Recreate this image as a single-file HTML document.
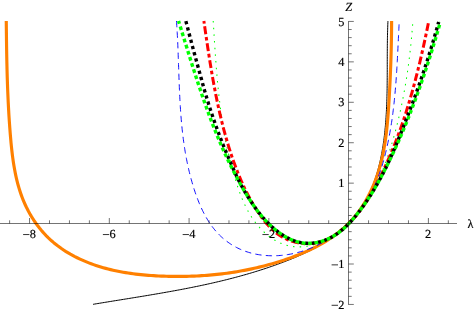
<!DOCTYPE html>
<html><head><meta charset="utf-8"><title>plot</title>
<style>
html,body{margin:0;padding:0;background:#fff;}
body{width:474px;height:311px;overflow:hidden;font-family:"Liberation Serif",serif;}
svg{display:block;will-change:transform;}
text{text-rendering:geometricPrecision;}
</style></head><body>
<svg width="474" height="311" viewBox="0 0 474 311">
<g fill="none" stroke-linecap="butt" stroke-linejoin="round">
<path d="M93.08,304.32 L94.69,304.05 L96.30,303.78 L97.90,303.52 L99.51,303.25 L101.12,302.99 L102.72,302.73 L104.33,302.46 L105.93,302.20 L107.54,301.94 L109.14,301.68 L110.75,301.42 L112.35,301.16 L113.95,300.90 L115.56,300.64 L117.16,300.39 L118.76,300.13 L120.36,299.87 L121.96,299.61 L123.56,299.35 L125.16,299.09 L126.76,298.84 L128.36,298.58 L129.95,298.32 L131.55,298.06 L133.15,297.80 L134.75,297.54 L136.34,297.28 L137.94,297.02 L139.53,296.76 L141.13,296.50 L142.72,296.24 L144.31,295.97 L145.91,295.71 L147.50,295.44 L149.09,295.18 L150.68,294.91 L152.27,294.64 L153.86,294.37 L155.45,294.10 L157.04,293.83 L158.63,293.56 L160.21,293.29 L161.80,293.01 L163.39,292.73 L164.97,292.45 L166.56,292.17 L168.14,291.89 L169.73,291.61 L171.31,291.32 L172.90,291.03 L174.48,290.75 L176.06,290.45 L177.64,290.16 L179.22,289.86 L180.80,289.57 L182.38,289.27 L183.96,288.96 L185.54,288.66 L187.11,288.35 L188.69,288.04 L190.27,287.73 L191.84,287.42 L193.42,287.10 L194.99,286.78 L196.56,286.46 L198.14,286.13 L199.71,285.80 L201.28,285.47 L202.85,285.14 L204.42,284.80 L205.99,284.46 L207.56,284.12 L209.13,283.77 L210.70,283.42 L212.26,283.06 L213.83,282.71 L215.39,282.35 L216.96,281.98 L218.52,281.61 L220.08,281.24 L221.65,280.87 L223.21,280.49 L224.77,280.10 L226.33,279.72 L227.89,279.32 L229.45,278.93 L231.01,278.53 L232.56,278.13 L234.12,277.72 L235.68,277.31 L237.23,276.89 L238.79,276.47 L240.34,276.04 L241.89,275.61 L243.44,275.18 L244.99,274.74 L246.55,274.30 L248.09,273.85 L249.64,273.39 L251.19,272.94 L252.74,272.47 L254.29,272.00 L255.83,271.53 L257.38,271.05 L258.92,270.57 L260.46,270.08 L262.01,269.58 L263.55,269.08 L265.09,268.58 L266.63,268.07 L268.17,267.55 L269.71,267.03 L271.24,266.50 L272.78,265.97 L274.32,265.43 L275.85,264.88 L277.39,264.33 L278.92,263.77 L280.45,263.21 L281.98,262.64 L283.51,262.06 L285.04,261.48 L286.57,260.89 L288.09,260.29 L289.61,259.69 L291.13,259.08 L292.65,258.46 L294.16,257.83 L295.67,257.19 L297.18,256.55 L298.68,255.89 L300.17,255.23 L301.66,254.56 L303.15,253.88 L304.63,253.19 L306.10,252.49 L307.57,251.78 L309.03,251.05 L310.49,250.32 L311.93,249.58 L313.37,248.82 L314.80,248.06 L316.23,247.28 L317.64,246.49 L319.05,245.69 L320.45,244.88 L321.84,244.05 L323.22,243.21 L324.59,242.36 L325.94,241.50 L327.29,240.62 L328.63,239.72 L329.96,238.82 L331.27,237.90 L332.57,236.96 L333.86,236.01 L335.14,235.05 L336.41,234.07 L337.66,233.07 L338.90,232.06 L340.13,231.04 L341.34,229.99 L342.53,228.93 L343.72,227.86 L344.89,226.77 L346.04,225.67 L347.18,224.55 L348.30,223.41 L349.41,222.27 L350.50,221.10 L351.57,219.92 L352.63,218.73 L353.67,217.52 L354.69,216.30 L355.69,215.07 L356.68,213.82 L357.65,212.56 L358.60,211.28 L359.53,209.99 L360.44,208.69 L361.34,207.37 L362.21,206.05 L363.07,204.71 L363.90,203.35 L364.72,201.99 L365.51,200.61 L366.28,199.22 L367.04,197.82 L367.78,196.40 L368.49,194.98 L369.19,193.55 L369.87,192.10 L370.54,190.65 L371.18,189.18 L371.81,187.71 L372.42,186.22 L373.01,184.73 L373.59,183.23 L374.15,181.72 L374.69,180.20 L375.22,178.68 L375.73,177.14 L376.23,175.60 L376.71,174.06 L377.17,172.50 L377.63,170.94 L378.06,169.37 L378.49,167.80 L378.90,166.22 L379.29,164.64 L379.67,163.05 L380.04,161.46 L380.40,159.86 L380.74,158.26 L381.07,156.65 L381.39,155.04 L381.70,153.43 L382.00,151.81 L382.28,150.20 L382.56,148.58 L382.82,146.95 L383.07,145.33 L383.31,143.70 L383.55,142.07 L383.77,140.45 L383.98,138.82 L384.18,137.19 L384.38,135.56 L384.57,133.93 L384.74,132.30 L384.91,130.67 L385.07,129.04 L385.23,127.41 L385.37,125.79 L385.51,124.16 L385.64,122.54 L385.77,120.92 L385.89,119.29 L386.00,117.67 L386.10,116.05 L386.20,114.43 L386.30,112.82 L386.38,111.20 L386.47,109.58 L386.54,107.97 L386.61,106.35 L386.68,104.74 L386.74,103.12 L386.80,101.51 L386.85,99.90 L386.90,98.28 L386.94,96.67 L386.98,95.06 L387.02,93.45 L387.05,91.84 L387.08,90.23 L387.11,88.62 L387.13,87.01 L387.15,85.41 L387.17,83.80 L387.18,82.19 L387.20,80.58 L387.21,78.98 L387.22,77.37 L387.23,75.76 L387.24,74.16 L387.24,72.55 L387.25,70.95 L387.25,69.34 L387.25,67.74 L387.26,66.13 L387.26,64.52 L387.26,62.92 L387.26,61.31 L387.27,59.71 L387.27,58.10 L387.28,56.50 L387.28,54.89 L387.29,53.29 L387.30,51.68 L387.30,50.07 L387.32,48.47 L387.33,46.86 L387.34,45.25 L387.36,43.65 L387.38,42.04 L387.40,40.43 L387.43,38.82 L387.46,37.21 L387.49,35.60 L387.52,33.99 L387.56,32.38 L387.60,30.77 L387.65,29.16 L387.70,27.55 L387.75,25.94 L387.81,24.33 L387.88,22.71 L387.94,21.10" stroke="#000" stroke-width="1.0"/>
<path d="M6.27,20.99 L6.29,23.56 L6.32,26.12 L6.35,28.69 L6.38,31.25 L6.41,33.80 L6.44,36.35 L6.47,38.90 L6.51,41.45 L6.54,43.99 L6.58,46.53 L6.62,49.07 L6.66,51.60 L6.70,54.13 L6.75,56.66 L6.80,59.19 L6.85,61.72 L6.91,64.25 L6.97,66.77 L7.03,69.29 L7.09,71.82 L7.16,74.34 L7.23,76.86 L7.31,79.38 L7.39,81.90 L7.48,84.42 L7.57,86.94 L7.66,89.46 L7.76,91.98 L7.87,94.50 L7.98,97.02 L8.09,99.55 L8.21,102.07 L8.34,104.60 L8.47,107.13 L8.61,109.65 L8.75,112.19 L8.90,114.72 L9.06,117.25 L9.23,119.79 L9.40,122.33 L9.58,124.88 L9.76,127.42 L9.95,129.97 L10.16,132.52 L10.36,135.08 L10.58,137.64 L10.81,140.20 L11.04,142.77 L11.29,145.33 L11.56,147.90 L11.84,150.46 L12.14,153.02 L12.45,155.58 L12.79,158.14 L13.15,160.69 L13.53,163.23 L13.94,165.77 L14.38,168.30 L14.84,170.82 L15.34,173.34 L15.86,175.84 L16.42,178.33 L17.02,180.81 L17.65,183.28 L18.32,185.73 L19.02,188.17 L19.77,190.59 L20.56,192.99 L21.40,195.38 L22.28,197.75 L23.21,200.10 L24.19,202.43 L25.22,204.74 L26.29,207.02 L27.42,209.28 L28.59,211.52 L29.81,213.72 L31.08,215.90 L32.40,218.05 L33.76,220.17 L35.17,222.25 L36.63,224.31 L38.13,226.32 L39.68,228.30 L41.28,230.25 L42.92,232.15 L44.61,234.01 L46.34,235.84 L48.12,237.61 L49.95,239.35 L51.82,241.04 L53.73,242.68 L55.69,244.27 L57.68,245.82 L59.72,247.32 L61.79,248.78 L63.90,250.19 L66.04,251.56 L68.21,252.88 L70.41,254.16 L72.64,255.39 L74.89,256.59 L77.16,257.73 L79.46,258.84 L81.77,259.90 L84.10,260.92 L86.45,261.90 L88.81,262.84 L91.18,263.74 L93.57,264.61 L95.97,265.43 L98.38,266.22 L100.81,266.97 L103.24,267.68 L105.69,268.36 L108.15,269.00 L110.62,269.61 L113.09,270.19 L115.58,270.74 L118.07,271.26 L120.57,271.74 L123.08,272.20 L125.60,272.63 L128.12,273.03 L130.65,273.40 L133.18,273.75 L135.71,274.07 L138.25,274.37 L140.80,274.65 L143.35,274.90 L145.89,275.13 L148.45,275.33 L151.00,275.52 L153.55,275.69 L156.11,275.84 L158.66,275.97 L161.21,276.08 L163.76,276.18 L166.31,276.26 L168.86,276.32 L171.41,276.37 L173.95,276.41 L176.49,276.42 L179.04,276.42 L181.57,276.41 L184.11,276.38 L186.64,276.33 L189.18,276.26 L191.71,276.18 L194.23,276.08 L196.76,275.97 L199.28,275.84 L201.81,275.69 L204.33,275.52 L206.84,275.33 L209.36,275.13 L211.87,274.91 L214.38,274.67 L216.89,274.41 L219.40,274.14 L221.90,273.84 L224.41,273.53 L226.91,273.20 L229.41,272.85 L231.90,272.48 L234.40,272.10 L236.89,271.69 L239.38,271.26 L241.86,270.82 L244.35,270.35 L246.83,269.87 L249.31,269.36 L251.79,268.84 L254.26,268.29 L256.74,267.73 L259.21,267.15 L261.68,266.54 L264.14,265.91 L266.60,265.27 L269.07,264.60 L271.52,263.91 L273.98,263.20 L276.43,262.47 L278.89,261.72 L281.33,260.94 L283.78,260.15 L286.22,259.33 L288.66,258.49 L291.08,257.62 L293.50,256.73 L295.91,255.81 L298.31,254.87 L300.70,253.90 L303.07,252.90 L305.43,251.88 L307.78,250.83 L310.10,249.74 L312.41,248.63 L314.70,247.48 L316.96,246.31 L319.21,245.10 L321.43,243.86 L323.63,242.59 L325.80,241.28 L327.94,239.93 L330.05,238.55 L332.14,237.14 L334.19,235.69 L336.21,234.20 L338.20,232.67 L340.16,231.10 L342.07,229.49 L343.95,227.85 L345.79,226.16 L347.60,224.43 L349.36,222.66 L351.07,220.84 L352.75,218.98 L354.38,217.08 L355.97,215.14 L357.51,213.16 L359.01,211.14 L360.47,209.08 L361.89,206.99 L363.26,204.87 L364.59,202.71 L365.88,200.53 L367.13,198.32 L368.34,196.08 L369.50,193.81 L370.62,191.52 L371.71,189.21 L372.75,186.88 L373.75,184.53 L374.71,182.16 L375.62,179.77 L376.50,177.37 L377.34,174.96 L378.14,172.53 L378.90,170.10 L379.62,167.65 L380.30,165.20 L380.95,162.73 L381.56,160.26 L382.14,157.78 L382.69,155.29 L383.21,152.80 L383.70,150.30 L384.15,147.79 L384.59,145.28 L384.99,142.76 L385.37,140.24 L385.73,137.71 L386.06,135.18 L386.38,132.64 L386.67,130.10 L386.95,127.56 L387.20,125.02 L387.44,122.47 L387.67,119.93 L387.88,117.38 L388.08,114.83 L388.27,112.28 L388.45,109.74 L388.62,107.19 L388.78,104.65 L388.94,102.10 L389.09,99.56 L389.24,97.02 L389.38,94.49 L389.52,91.95 L389.65,89.42 L389.78,86.89 L389.91,84.36 L390.03,81.84 L390.15,79.31 L390.26,76.79 L390.37,74.26 L390.47,71.74 L390.57,69.22 L390.67,66.69 L390.76,64.17 L390.85,61.65 L390.93,59.12 L391.01,56.60 L391.08,54.07 L391.15,51.54 L391.22,49.01 L391.28,46.48 L391.33,43.95 L391.38,41.42 L391.43,38.88 L391.47,36.34 L391.51,33.80 L391.54,31.26 L391.57,28.71 L391.59,26.16 L391.61,23.60 L391.62,21.04" stroke="#ff8000" stroke-width="3.15"/>
<path d="M176.47,21.02 L176.57,22.47 L176.67,23.92 L176.77,25.37 L176.86,26.82 L176.95,28.27 L177.04,29.72 L177.13,31.17 L177.21,32.62 L177.29,34.07 L177.37,35.52 L177.44,36.97 L177.51,38.42 L177.58,39.87 L177.65,41.32 L177.72,42.77 L177.78,44.22 L177.84,45.68 L177.90,47.13 L177.96,48.58 L178.02,50.03 L178.07,51.48 L178.13,52.93 L178.18,54.38 L178.23,55.83 L178.28,57.28 L178.34,58.74 L178.39,60.19 L178.43,61.64 L178.48,63.09 L178.53,64.54 L178.58,65.99 L178.63,67.44 L178.68,68.89 L178.73,70.34 L178.77,71.79 L178.82,73.24 L178.87,74.69 L178.92,76.14 L178.97,77.60 L179.03,79.05 L179.08,80.50 L179.13,81.94 L179.19,83.39 L179.24,84.84 L179.30,86.29 L179.36,87.74 L179.42,89.19 L179.48,90.64 L179.54,92.09 L179.61,93.54 L179.68,94.99 L179.75,96.43 L179.82,97.88 L179.89,99.33 L179.97,100.78 L180.05,102.22 L180.13,103.67 L180.22,105.12 L180.30,106.56 L180.39,108.01 L180.49,109.45 L180.59,110.90 L180.69,112.34 L180.79,113.79 L180.90,115.23 L181.01,116.68 L181.13,118.12 L181.25,119.56 L181.37,121.01 L181.50,122.45 L181.63,123.89 L181.77,125.33 L181.91,126.77 L182.05,128.22 L182.20,129.66 L182.36,131.10 L182.52,132.54 L182.68,133.98 L182.85,135.41 L183.03,136.85 L183.21,138.29 L183.40,139.73 L183.59,141.17 L183.79,142.60 L183.99,144.04 L184.20,145.47 L184.42,146.91 L184.64,148.34 L184.87,149.78 L185.10,151.21 L185.34,152.64 L185.59,154.08 L185.85,155.51 L186.11,156.94 L186.38,158.37 L186.65,159.80 L186.94,161.23 L187.23,162.66 L187.52,164.09 L187.83,165.51 L188.14,166.94 L188.46,168.37 L188.79,169.79 L189.13,171.22 L189.47,172.64 L189.83,174.07 L190.19,175.49 L190.56,176.91 L190.94,178.33 L191.33,179.75 L191.72,181.17 L192.13,182.59 L192.54,184.01 L192.96,185.43 L193.40,186.85 L193.84,188.26 L194.29,189.68 L194.75,191.09 L195.23,192.50 L195.71,193.91 L196.20,195.31 L196.71,196.70 L197.23,198.10 L197.75,199.48 L198.30,200.86 L198.85,202.24 L199.41,203.61 L199.99,204.97 L200.59,206.32 L201.19,207.66 L201.81,209.00 L202.44,210.32 L203.09,211.64 L203.76,212.94 L204.43,214.24 L205.13,215.52 L205.83,216.79 L206.56,218.04 L207.30,219.29 L208.05,220.52 L208.83,221.74 L209.62,222.94 L210.42,224.13 L211.25,225.30 L212.09,226.45 L212.95,227.59 L213.83,228.71 L214.73,229.81 L215.64,230.90 L216.58,231.97 L217.53,233.01 L218.51,234.04 L219.50,235.05 L220.51,236.04 L221.55,237.00 L222.60,237.95 L223.68,238.87 L224.77,239.77 L225.88,240.65 L227.00,241.51 L228.15,242.34 L229.31,243.15 L230.49,243.94 L231.68,244.70 L232.89,245.44 L234.12,246.15 L235.36,246.84 L236.62,247.51 L237.88,248.15 L239.17,248.76 L240.46,249.35 L241.77,249.91 L243.09,250.45 L244.42,250.96 L245.77,251.44 L247.12,251.89 L248.49,252.32 L249.86,252.73 L251.25,253.10 L252.64,253.45 L254.05,253.78 L255.46,254.08 L256.87,254.35 L258.30,254.60 L259.73,254.83 L261.17,255.03 L262.61,255.21 L264.05,255.36 L265.51,255.48 L266.96,255.59 L268.42,255.67 L269.88,255.72 L271.35,255.76 L272.81,255.77 L274.28,255.75 L275.75,255.72 L277.22,255.66 L278.69,255.58 L280.16,255.47 L281.63,255.35 L283.09,255.20 L284.56,255.03 L286.02,254.84 L287.48,254.62 L288.93,254.39 L290.38,254.13 L291.83,253.86 L293.27,253.56 L294.71,253.25 L296.14,252.91 L297.56,252.55 L298.98,252.17 L300.39,251.78 L301.79,251.36 L303.19,250.93 L304.58,250.47 L305.96,250.00 L307.34,249.51 L308.71,249.00 L310.07,248.47 L311.42,247.92 L312.76,247.36 L314.10,246.78 L315.43,246.18 L316.75,245.56 L318.06,244.93 L319.36,244.28 L320.66,243.62 L321.94,242.94 L323.22,242.24 L324.49,241.53 L325.75,240.80 L327.00,240.05 L328.24,239.29 L329.46,238.52 L330.68,237.73 L331.89,236.93 L333.09,236.11 L334.28,235.28 L335.46,234.43 L336.63,233.57 L337.79,232.70 L338.93,231.81 L340.07,230.91 L341.19,229.99 L342.31,229.06 L343.41,228.12 L344.50,227.17 L345.58,226.20 L346.64,225.22 L347.70,224.23 L348.74,223.22 L349.77,222.21 L350.79,221.18 L351.79,220.14 L352.78,219.08 L353.76,218.02 L354.72,216.94 L355.68,215.86 L356.61,214.76 L357.54,213.65 L358.45,212.53 L359.35,211.40 L360.23,210.25 L361.10,209.10 L361.95,207.94 L362.79,206.77 L363.62,205.58 L364.43,204.39 L365.22,203.19 L366.00,201.98 L366.77,200.76 L367.51,199.52 L368.25,198.28 L368.97,197.04 L369.67,195.78 L370.36,194.51 L371.04,193.24 L371.70,191.96 L372.34,190.67 L372.98,189.37 L373.60,188.07 L374.20,186.75 L374.80,185.44 L375.38,184.11 L375.95,182.78 L376.50,181.44 L377.05,180.10 L377.58,178.75 L378.10,177.39 L378.61,176.03 L379.10,174.67 L379.59,173.30 L380.07,171.92 L380.53,170.54 L380.99,169.16 L381.43,167.77 L381.87,166.38 L382.29,164.98 L382.71,163.58 L383.12,162.18 L383.52,160.78 L383.91,159.37 L384.29,157.96 L384.66,156.55 L385.03,155.13 L385.38,153.72 L385.73,152.30 L386.08,150.88 L386.41,149.46 L386.74,148.04 L387.06,146.62 L387.38,145.20 L387.69,143.77 L387.99,142.35 L388.29,140.92 L388.57,139.49 L388.86,138.07 L389.13,136.64 L389.40,135.21 L389.67,133.78 L389.93,132.35 L390.18,130.92 L390.43,129.48 L390.67,128.05 L390.91,126.62 L391.14,125.18 L391.36,123.74 L391.58,122.31 L391.80,120.87 L392.01,119.43 L392.21,117.99 L392.41,116.56 L392.61,115.12 L392.80,113.68 L392.98,112.23 L393.16,110.79 L393.34,109.35 L393.51,107.91 L393.68,106.47 L393.84,105.02 L394.00,103.58 L394.16,102.13 L394.31,100.69 L394.46,99.24 L394.60,97.80 L394.74,96.35 L394.88,94.90 L395.01,93.46 L395.14,92.01 L395.27,90.56 L395.39,89.11 L395.51,87.67 L395.63,86.22 L395.75,84.77 L395.86,83.32 L395.97,81.87 L396.07,80.42 L396.18,78.97 L396.28,77.52 L396.38,76.07 L396.47,74.62 L396.57,73.17 L396.66,71.72 L396.75,70.27 L396.84,68.82 L396.92,67.37 L397.01,65.92 L397.09,64.47 L397.17,63.02 L397.25,61.57 L397.33,60.12 L397.41,58.67 L397.48,57.22 L397.56,55.77 L397.63,54.32 L397.70,52.87 L397.78,51.42 L397.85,49.97 L397.92,48.52 L397.99,47.07 L398.06,45.62 L398.13,44.17 L398.20,42.72 L398.26,41.27 L398.33,39.83 L398.40,38.38 L398.47,36.93 L398.54,35.48 L398.61,34.04 L398.68,32.59 L398.75,31.14 L398.82,29.70 L398.89,28.25 L398.96,26.81 L399.03,25.37 L399.10,23.92 L399.18,22.48 L399.25,21.04" stroke="#0000ff" stroke-width="0.95" stroke-dasharray="6.2691 4.2789" stroke-dashoffset="0.000"/>
<path d="M213.21,21.02 L213.30,22.35 L213.38,23.68 L213.46,25.01 L213.54,26.34 L213.62,27.67 L213.70,29.00 L213.78,30.33 L213.86,31.66 L213.95,32.99 L214.03,34.33 L214.11,35.66 L214.19,36.99 L214.28,38.32 L214.36,39.66 L214.45,40.99 L214.53,42.32 L214.62,43.66 L214.70,44.99 L214.79,46.32 L214.88,47.66 L214.97,48.99 L215.05,50.33 L215.15,51.66 L215.24,52.99 L215.33,54.33 L215.42,55.66 L215.52,57.00 L215.61,58.33 L215.71,59.67 L215.81,61.00 L215.91,62.33 L216.01,63.67 L216.11,65.00 L216.21,66.34 L216.32,67.67 L216.42,69.00 L216.53,70.34 L216.64,71.67 L216.75,73.00 L216.86,74.34 L216.98,75.67 L217.09,77.00 L217.21,78.34 L217.33,79.67 L217.45,81.00 L217.57,82.33 L217.70,83.67 L217.83,85.00 L217.96,86.33 L218.09,87.66 L218.22,88.99 L218.36,90.32 L218.50,91.65 L218.64,92.98 L218.78,94.31 L218.93,95.64 L219.07,96.97 L219.22,98.30 L219.38,99.63 L219.53,100.95 L219.69,102.28 L219.85,103.61 L220.01,104.93 L220.18,106.26 L220.35,107.58 L220.52,108.91 L220.70,110.23 L220.87,111.56 L221.05,112.88 L221.24,114.20 L221.42,115.52 L221.61,116.85 L221.81,118.17 L222.00,119.49 L222.20,120.81 L222.41,122.13 L222.61,123.45 L222.82,124.76 L223.03,126.08 L223.25,127.40 L223.47,128.71 L223.69,130.03 L223.92,131.34 L224.15,132.66 L224.39,133.97 L224.62,135.28 L224.87,136.59 L225.11,137.90 L225.36,139.21 L225.62,140.52 L225.87,141.83 L226.14,143.14 L226.40,144.44 L226.67,145.75 L226.95,147.05 L227.22,148.36 L227.51,149.66 L227.79,150.96 L228.09,152.26 L228.38,153.56 L228.68,154.86 L228.99,156.16 L229.30,157.46 L229.61,158.75 L229.93,160.05 L230.25,161.34 L230.58,162.64 L230.91,163.93 L231.25,165.22 L231.59,166.51 L231.94,167.80 L232.29,169.09 L232.65,170.37 L233.01,171.66 L233.38,172.94 L233.75,174.23 L234.12,175.51 L234.51,176.79 L234.89,178.07 L235.29,179.35 L235.69,180.62 L236.09,181.90 L236.50,183.17 L236.91,184.45 L237.33,185.72 L237.76,186.99 L238.19,188.26 L238.63,189.53 L239.08,190.79 L239.54,192.05 L240.00,193.31 L240.47,194.56 L240.96,195.81 L241.45,197.06 L241.95,198.30 L242.46,199.54 L242.99,200.77 L243.52,202.00 L244.07,203.22 L244.63,204.43 L245.21,205.64 L245.79,206.85 L246.39,208.04 L247.01,209.23 L247.64,210.41 L248.28,211.59 L248.95,212.75 L249.62,213.91 L250.32,215.06 L251.03,216.20 L251.76,217.33 L252.51,218.45 L253.27,219.56 L254.06,220.66 L254.86,221.75 L255.68,222.83 L256.53,223.90 L257.39,224.95 L258.26,225.99 L259.16,227.02 L260.07,228.03 L261.00,229.02 L261.95,229.99 L262.91,230.95 L263.89,231.89 L264.89,232.81 L265.90,233.70 L266.92,234.58 L267.96,235.43 L269.02,236.26 L270.09,237.06 L271.17,237.84 L272.27,238.59 L273.38,239.32 L274.50,240.02 L275.64,240.69 L276.79,241.33 L277.95,241.93 L279.12,242.51 L280.30,243.06 L281.50,243.57 L282.70,244.05 L283.92,244.50 L285.14,244.91 L286.38,245.28 L287.63,245.61 L288.88,245.91 L290.14,246.17 L291.42,246.39 L292.70,246.57 L293.99,246.71 L295.28,246.81 L296.58,246.88 L297.88,246.91 L299.19,246.90 L300.50,246.86 L301.81,246.78 L303.13,246.68 L304.44,246.53 L305.76,246.36 L307.07,246.16 L308.38,245.92 L309.69,245.66 L311.00,245.37 L312.30,245.05 L313.60,244.70 L314.89,244.33 L316.17,243.93 L317.45,243.50 L318.72,243.05 L319.98,242.58 L321.22,242.09 L322.46,241.57 L323.69,241.03 L324.91,240.48 L326.11,239.90 L327.30,239.30 L328.48,238.68 L329.65,238.04 L330.81,237.39 L331.96,236.71 L333.09,236.02 L334.21,235.30 L335.33,234.57 L336.43,233.83 L337.52,233.06 L338.60,232.28 L339.66,231.48 L340.72,230.67 L341.76,229.84 L342.80,229.00 L343.82,228.14 L344.83,227.26 L345.83,226.38 L346.82,225.47 L347.80,224.56 L348.77,223.63 L349.72,222.69 L350.67,221.73 L351.60,220.76 L352.52,219.78 L353.44,218.79 L354.34,217.79 L355.23,216.78 L356.11,215.75 L356.98,214.72 L357.84,213.67 L358.68,212.62 L359.52,211.56 L360.35,210.48 L361.16,209.40 L361.97,208.31 L362.76,207.22 L363.55,206.11 L364.32,205.00 L365.08,203.88 L365.84,202.75 L366.58,201.62 L367.31,200.48 L368.03,199.34 L368.74,198.19 L369.44,197.04 L370.13,195.88 L370.81,194.72 L371.48,193.55 L372.14,192.38 L372.79,191.21 L373.43,190.03 L374.06,188.85 L374.68,187.67 L375.29,186.48 L375.89,185.29 L376.48,184.10 L377.06,182.91 L377.63,181.71 L378.20,180.51 L378.75,179.31 L379.30,178.10 L379.84,176.89 L380.37,175.68 L380.89,174.47 L381.41,173.25 L381.92,172.04 L382.42,170.81 L382.91,169.59 L383.40,168.36 L383.88,167.14 L384.35,165.90 L384.82,164.67 L385.28,163.43 L385.73,162.20 L386.18,160.96 L386.62,159.71 L387.06,158.47 L387.49,157.22 L387.92,155.97 L388.34,154.72 L388.76,153.46 L389.17,152.21 L389.58,150.95 L389.98,149.69 L390.38,148.42 L390.78,147.16 L391.17,145.89 L391.56,144.62 L391.94,143.35 L392.32,142.08 L392.70,140.80 L393.07,139.53 L393.44,138.25 L393.80,136.97 L394.16,135.68 L394.52,134.40 L394.87,133.12 L395.22,131.83 L395.57,130.54 L395.91,129.25 L396.25,127.96 L396.58,126.66 L396.91,125.37 L397.24,124.07 L397.56,122.77 L397.88,121.47 L398.20,120.17 L398.51,118.87 L398.82,117.57 L399.13,116.26 L399.43,114.96 L399.73,113.65 L400.03,112.34 L400.32,111.03 L400.61,109.72 L400.89,108.41 L401.17,107.10 L401.45,105.78 L401.73,104.47 L402.00,103.15 L402.27,101.83 L402.53,100.52 L402.79,99.20 L403.05,97.88 L403.31,96.56 L403.56,95.24 L403.81,93.92 L404.05,92.59 L404.29,91.27 L404.53,89.95 L404.77,88.62 L405.00,87.30 L405.23,85.97 L405.45,84.65 L405.68,83.32 L405.90,81.99 L406.11,80.67 L406.33,79.34 L406.54,78.01 L406.74,76.68 L406.95,75.36 L407.15,74.03 L407.35,72.70 L407.54,71.37 L407.73,70.04 L407.92,68.71 L408.11,67.38 L408.29,66.05 L408.47,64.72 L408.65,63.39 L408.82,62.06 L409.00,60.73 L409.16,59.40 L409.33,58.08 L409.49,56.75 L409.65,55.42 L409.81,54.09 L409.97,52.76 L410.12,51.43 L410.27,50.11 L410.41,48.78 L410.56,47.45 L410.70,46.13 L410.84,44.80 L410.97,43.48 L411.11,42.15 L411.24,40.83 L411.37,39.50 L411.49,38.18 L411.61,36.86 L411.73,35.54 L411.85,34.22 L411.97,32.90 L412.08,31.58 L412.19,30.26 L412.30,28.94 L412.40,27.62 L412.50,26.31 L412.60,24.99 L412.70,23.68 L412.80,22.37 L412.89,21.06" stroke="#00ff00" stroke-width="1.05" stroke-dasharray="1.5076 5.1762" stroke-dashoffset="0.000"/>
<path d="M203.89,21.05 L204.08,22.35 L204.26,23.66 L204.45,24.96 L204.64,26.26 L204.83,27.57 L205.01,28.87 L205.20,30.18 L205.39,31.48 L205.58,32.79 L205.77,34.10 L205.96,35.41 L206.15,36.71 L206.34,38.02 L206.53,39.33 L206.73,40.64 L206.92,41.95 L207.11,43.26 L207.31,44.57 L207.51,45.88 L207.70,47.19 L207.90,48.50 L208.10,49.81 L208.30,51.12 L208.50,52.44 L208.70,53.75 L208.91,55.06 L209.11,56.37 L209.32,57.68 L209.52,59.00 L209.73,60.31 L209.94,61.62 L210.15,62.93 L210.37,64.24 L210.58,65.56 L210.80,66.87 L211.01,68.18 L211.23,69.49 L211.45,70.80 L211.68,72.11 L211.90,73.42 L212.13,74.73 L212.35,76.05 L212.58,77.36 L212.81,78.67 L213.05,79.98 L213.28,81.29 L213.52,82.59 L213.76,83.90 L214.00,85.21 L214.24,86.52 L214.49,87.83 L214.74,89.13 L214.99,90.44 L215.24,91.75 L215.50,93.05 L215.75,94.36 L216.01,95.66 L216.27,96.96 L216.54,98.27 L216.81,99.57 L217.08,100.87 L217.35,102.17 L217.62,103.47 L217.90,104.77 L218.18,106.07 L218.46,107.37 L218.75,108.67 L219.04,109.96 L219.33,111.26 L219.63,112.55 L219.92,113.85 L220.23,115.14 L220.53,116.43 L220.84,117.72 L221.15,119.01 L221.46,120.30 L221.78,121.59 L222.10,122.88 L222.42,124.16 L222.75,125.45 L223.08,126.73 L223.41,128.01 L223.75,129.30 L224.09,130.58 L224.43,131.86 L224.78,133.13 L225.13,134.41 L225.48,135.69 L225.84,136.96 L226.21,138.23 L226.57,139.50 L226.94,140.77 L227.32,142.04 L227.69,143.31 L228.08,144.57 L228.46,145.84 L228.85,147.10 L229.25,148.36 L229.64,149.62 L230.05,150.88 L230.45,152.14 L230.86,153.39 L231.28,154.65 L231.70,155.90 L232.12,157.15 L232.55,158.40 L232.98,159.64 L233.42,160.89 L233.86,162.13 L234.31,163.37 L234.76,164.61 L235.21,165.85 L235.68,167.09 L236.14,168.32 L236.61,169.55 L237.09,170.78 L237.57,172.01 L238.06,173.24 L238.56,174.46 L239.06,175.68 L239.56,176.90 L240.07,178.12 L240.59,179.33 L241.12,180.54 L241.65,181.75 L242.19,182.96 L242.73,184.17 L243.28,185.37 L243.84,186.57 L244.40,187.77 L244.98,188.96 L245.56,190.15 L246.14,191.34 L246.74,192.53 L247.34,193.71 L247.95,194.89 L248.57,196.07 L249.19,197.25 L249.83,198.42 L250.47,199.59 L251.12,200.75 L251.78,201.92 L252.44,203.08 L253.12,204.23 L253.81,205.39 L254.50,206.54 L255.20,207.68 L255.91,208.83 L256.63,209.97 L257.36,211.11 L258.11,212.24 L258.86,213.36 L259.62,214.48 L260.39,215.60 L261.17,216.70 L261.97,217.79 L262.78,218.88 L263.60,219.95 L264.43,221.01 L265.27,222.06 L266.13,223.09 L267.01,224.11 L267.90,225.11 L268.80,226.09 L269.72,227.05 L270.65,228.00 L271.60,228.93 L272.57,229.83 L273.55,230.72 L274.55,231.58 L275.57,232.41 L276.60,233.22 L277.65,234.01 L278.73,234.77 L279.82,235.50 L280.93,236.20 L282.06,236.87 L283.20,237.51 L284.37,238.13 L285.55,238.71 L286.74,239.26 L287.95,239.78 L289.17,240.28 L290.41,240.73 L291.65,241.16 L292.91,241.56 L294.18,241.92 L295.45,242.25 L296.74,242.55 L298.03,242.81 L299.32,243.04 L300.63,243.24 L301.93,243.40 L303.24,243.53 L304.55,243.63 L305.87,243.68 L307.18,243.71 L308.49,243.69 L309.81,243.64 L311.12,243.56 L312.42,243.44 L313.73,243.28 L315.03,243.08 L316.32,242.85 L317.61,242.58 L318.88,242.27 L320.16,241.92 L321.42,241.54 L322.67,241.11 L323.91,240.65 L325.14,240.16 L326.36,239.63 L327.57,239.07 L328.77,238.48 L329.95,237.86 L331.13,237.22 L332.29,236.54 L333.44,235.85 L334.57,235.13 L335.70,234.39 L336.81,233.63 L337.90,232.86 L338.99,232.06 L340.05,231.26 L341.11,230.43 L342.15,229.60 L343.17,228.75 L344.18,227.89 L345.18,227.01 L346.16,226.13 L347.14,225.23 L348.09,224.32 L349.04,223.40 L349.97,222.46 L350.89,221.52 L351.80,220.56 L352.69,219.60 L353.58,218.62 L354.45,217.63 L355.31,216.63 L356.16,215.63 L357.00,214.61 L357.82,213.59 L358.64,212.55 L359.45,211.51 L360.24,210.46 L361.03,209.40 L361.81,208.33 L362.58,207.26 L363.33,206.18 L364.08,205.09 L364.82,203.99 L365.56,202.89 L366.28,201.78 L367.00,200.66 L367.70,199.54 L368.40,198.41 L369.10,197.28 L369.78,196.14 L370.46,195.00 L371.13,193.85 L371.79,192.70 L372.45,191.54 L373.10,190.38 L373.75,189.22 L374.39,188.05 L375.02,186.88 L375.65,185.71 L376.27,184.53 L376.89,183.35 L377.51,182.17 L378.12,180.99 L378.72,179.81 L379.32,178.62 L379.92,177.43 L380.51,176.24 L381.10,175.05 L381.68,173.86 L382.26,172.66 L382.84,171.47 L383.41,170.27 L383.97,169.07 L384.54,167.87 L385.09,166.67 L385.65,165.46 L386.20,164.26 L386.74,163.05 L387.29,161.84 L387.83,160.63 L388.36,159.42 L388.89,158.20 L389.42,156.99 L389.94,155.77 L390.46,154.55 L390.97,153.33 L391.49,152.11 L391.99,150.89 L392.50,149.67 L393.00,148.44 L393.49,147.21 L393.99,145.99 L394.48,144.76 L394.96,143.52 L395.44,142.29 L395.92,141.06 L396.40,139.82 L396.87,138.59 L397.34,137.35 L397.80,136.11 L398.26,134.87 L398.72,133.63 L399.18,132.39 L399.63,131.14 L400.07,129.90 L400.52,128.65 L400.96,127.41 L401.40,126.16 L401.83,124.91 L402.26,123.66 L402.69,122.40 L403.12,121.15 L403.54,119.90 L403.96,118.64 L404.38,117.39 L404.79,116.13 L405.20,114.87 L405.61,113.61 L406.01,112.35 L406.41,111.09 L406.81,109.82 L407.20,108.56 L407.60,107.30 L407.99,106.03 L408.37,104.76 L408.76,103.50 L409.14,102.23 L409.52,100.96 L409.89,99.69 L410.27,98.42 L410.64,97.15 L411.01,95.87 L411.37,94.60 L411.74,93.33 L412.10,92.05 L412.45,90.77 L412.81,89.50 L413.16,88.22 L413.51,86.94 L413.86,85.66 L414.21,84.38 L414.55,83.10 L414.89,81.82 L415.23,80.54 L415.57,79.26 L415.90,77.97 L416.23,76.69 L416.56,75.40 L416.89,74.12 L417.22,72.83 L417.54,71.55 L417.86,70.26 L418.18,68.97 L418.50,67.68 L418.81,66.40 L419.13,65.11 L419.44,63.82 L419.75,62.53 L420.06,61.24 L420.36,59.94 L420.66,58.65 L420.97,57.36 L421.27,56.07 L421.57,54.77 L421.86,53.48 L422.16,52.19 L422.45,50.89 L422.74,49.60 L423.03,48.30 L423.32,47.01 L423.61,45.71 L423.89,44.42 L424.17,43.12 L424.46,41.82 L424.74,40.53 L425.02,39.23 L425.29,37.93 L425.57,36.63 L425.84,35.34 L426.12,34.04 L426.39,32.74 L426.66,31.44 L426.93,30.14 L427.20,28.84 L427.46,27.54 L427.73,26.24 L427.99,24.94 L428.26,23.65 L428.52,22.35 L428.78,21.05" stroke="#ff0000" stroke-width="3" stroke-dasharray="3.6616 2.7709 7.9170 2.7709" stroke-dashoffset="1.089"/>
<path d="M185.88,21.10 L186.14,22.12 L186.41,23.15 L186.67,24.18 L186.94,25.21 L187.21,26.23 L187.47,27.26 L187.74,28.29 L188.01,29.32 L188.27,30.35 L188.54,31.38 L188.81,32.41 L189.08,33.44 L189.34,34.47 L189.61,35.50 L189.88,36.53 L190.15,37.56 L190.42,38.59 L190.69,39.62 L190.96,40.65 L191.23,41.68 L191.50,42.71 L191.77,43.75 L192.04,44.78 L192.32,45.81 L192.59,46.84 L192.86,47.87 L193.14,48.90 L193.41,49.93 L193.69,50.97 L193.97,52.00 L194.24,53.03 L194.52,54.06 L194.80,55.09 L195.08,56.12 L195.37,57.16 L195.65,58.19 L195.93,59.22 L196.22,60.25 L196.50,61.28 L196.79,62.31 L197.07,63.35 L197.35,64.38 L197.64,65.41 L197.92,66.44 L198.21,67.47 L198.49,68.50 L198.78,69.53 L199.06,70.56 L199.34,71.59 L199.62,72.62 L199.90,73.65 L200.19,74.68 L200.47,75.71 L200.75,76.74 L201.03,77.77 L201.31,78.79 L201.59,79.82 L201.87,80.85 L202.15,81.88 L202.44,82.91 L202.72,83.93 L203.01,84.96 L203.29,85.99 L203.58,87.01 L203.87,88.04 L204.15,89.06 L204.44,90.09 L204.74,91.11 L205.03,92.14 L205.33,93.16 L205.62,94.18 L205.92,95.21 L206.23,96.23 L206.53,97.25 L206.84,98.27 L207.15,99.29 L207.46,100.31 L207.77,101.33 L208.09,102.35 L208.40,103.37 L208.72,104.39 L209.04,105.41 L209.37,106.43 L209.69,107.44 L210.02,108.46 L210.35,109.48 L210.68,110.49 L211.01,111.51 L211.34,112.52 L211.68,113.53 L212.02,114.55 L212.35,115.56 L212.70,116.57 L213.04,117.58 L213.38,118.59 L213.73,119.60 L214.08,120.61 L214.43,121.62 L214.78,122.62 L215.13,123.63 L215.49,124.64 L215.84,125.64 L216.20,126.65 L216.56,127.65 L216.92,128.65 L217.28,129.65 L217.65,130.65 L218.02,131.65 L218.39,132.65 L218.76,133.65 L219.13,134.65 L219.51,135.65 L219.89,136.64 L220.27,137.64 L220.66,138.63 L221.04,139.63 L221.43,140.62 L221.82,141.61 L222.22,142.60 L222.61,143.59 L223.01,144.58 L223.41,145.57 L223.81,146.56 L224.21,147.54 L224.61,148.53 L225.02,149.51 L225.42,150.49 L225.83,151.48 L226.24,152.46 L226.65,153.44 L227.07,154.42 L227.48,155.39 L227.90,156.37 L228.32,157.35 L228.74,158.32 L229.16,159.29 L229.58,160.27 L230.00,161.24 L230.42,162.21 L230.84,163.18 L231.26,164.14 L231.68,165.11 L232.10,166.08 L232.52,167.04 L232.94,168.00 L233.37,168.96 L233.79,169.92 L234.22,170.88 L234.66,171.84 L235.09,172.80 L235.53,173.75 L235.98,174.71 L236.43,175.66 L236.88,176.61 L237.34,177.56 L237.81,178.51 L238.28,179.46 L238.75,180.41 L239.24,181.35 L239.72,182.29 L240.21,183.24 L240.70,184.18 L241.20,185.12 L241.70,186.06 L242.21,186.99 L242.72,187.93 L243.23,188.86 L243.75,189.79 L244.27,190.72 L244.80,191.65 L245.34,192.58 L245.90,193.51 L246.46,194.43 L247.02,195.36 L247.59,196.28 L248.16,197.19 L248.74,198.11 L249.32,199.02 L249.90,199.93 L250.49,200.84 L251.08,201.75 L251.68,202.65 L252.28,203.55 L252.89,204.44 L253.50,205.33 L254.12,206.22 L254.74,207.10 L255.37,207.98 L256.01,208.86 L256.65,209.73 L257.30,210.59 L257.95,211.46 L258.61,212.31 L259.28,213.16 L259.95,214.01 L260.64,214.85 L261.32,215.68 L262.02,216.51 L262.72,217.34 L263.44,218.15 L264.16,218.96 L264.88,219.77 L265.62,220.57 L266.36,221.36 L267.12,222.14 L267.88,222.92 L268.65,223.69 L269.43,224.45 L270.22,225.21 L271.01,225.96 L271.82,226.70 L272.64,227.43 L273.47,228.15 L274.30,228.87 L275.15,229.57 L276.00,230.26 L276.87,230.95 L277.74,231.62 L278.62,232.28 L279.51,232.92 L280.41,233.56 L281.31,234.18 L282.22,234.78 L283.15,235.37 L284.07,235.94 L285.01,236.50 L285.95,237.04 L286.90,237.56 L287.86,238.06 L288.82,238.54 L289.79,239.01 L290.77,239.45 L291.75,239.88 L292.74,240.28 L293.73,240.66 L294.73,241.01 L295.73,241.35 L296.74,241.66 L297.76,241.94 L298.78,242.20 L299.80,242.43 L300.83,242.64 L301.87,242.82 L302.90,242.97 L303.94,243.10 L304.99,243.20 L306.04,243.27 L307.09,243.31 L308.14,243.33 L309.19,243.32 L310.24,243.29 L311.29,243.23 L312.35,243.14 L313.40,243.03 L314.45,242.90 L315.50,242.74 L316.54,242.56 L317.58,242.35 L318.62,242.12 L319.65,241.87 L320.68,241.60 L321.71,241.30 L322.73,240.98 L323.74,240.64 L324.74,240.28 L325.74,239.89 L326.73,239.49 L327.71,239.07 L328.68,238.62 L329.64,238.16 L330.60,237.68 L331.54,237.17 L332.47,236.65 L333.40,236.11 L334.31,235.56 L335.22,234.98 L336.12,234.40 L337.00,233.79 L337.88,233.17 L338.75,232.53 L339.62,231.88 L340.47,231.21 L341.31,230.53 L342.15,229.84 L342.98,229.14 L343.80,228.42 L344.61,227.69 L345.42,226.95 L346.21,226.19 L347.00,225.43 L347.78,224.66 L348.56,223.88 L349.32,223.08 L350.08,222.28 L350.83,221.48 L351.58,220.66 L352.31,219.83 L353.04,219.00 L353.77,218.17 L354.48,217.32 L355.19,216.48 L355.90,215.62 L356.59,214.76 L357.29,213.90 L357.97,213.04 L358.65,212.17 L359.32,211.30 L359.99,210.42 L360.65,209.55 L361.30,208.67 L361.95,207.79 L362.59,206.91 L363.23,206.02 L363.86,205.14 L364.49,204.25 L365.11,203.36 L365.73,202.46 L366.34,201.57 L366.95,200.67 L367.55,199.77 L368.15,198.87 L368.74,197.97 L369.32,197.07 L369.91,196.16 L370.49,195.25 L371.06,194.34 L371.63,193.43 L372.19,192.52 L372.76,191.60 L373.31,190.68 L373.87,189.76 L374.42,188.84 L374.96,187.92 L375.50,187.00 L376.04,186.07 L376.58,185.14 L377.11,184.21 L377.64,183.28 L378.16,182.35 L378.68,181.41 L379.20,180.48 L379.72,179.54 L380.23,178.60 L380.74,177.66 L381.24,176.72 L381.75,175.78 L382.25,174.83 L382.75,173.89 L383.25,172.94 L383.74,171.99 L384.23,171.04 L384.72,170.09 L385.21,169.14 L385.70,168.18 L386.15,167.23 L386.60,166.27 L387.05,165.31 L387.50,164.35 L387.94,163.39 L388.38,162.43 L388.83,161.46 L389.26,160.50 L389.70,159.53 L390.14,158.57 L390.57,157.60 L391.01,156.63 L391.44,155.66 L391.87,154.69 L392.30,153.72 L392.72,152.74 L393.15,151.77 L393.57,150.79 L393.99,149.82 L394.41,148.84 L394.83,147.86 L395.25,146.88 L395.66,145.90 L396.07,144.92 L396.48,143.93 L396.89,142.95 L397.30,141.96 L397.70,140.98 L398.11,139.99 L398.51,139.00 L398.91,138.01 L399.32,137.02 L399.72,136.03 L400.12,135.04 L400.52,134.05 L400.92,133.06 L401.32,132.06 L401.72,131.07 L402.12,130.07 L402.51,129.07 L402.91,128.08 L403.31,127.08 L403.70,126.08 L404.09,125.08 L404.48,124.08 L404.87,123.07 L405.26,122.07 L405.65,121.07 L406.04,120.07 L406.42,119.06 L406.81,118.06 L407.20,117.05 L407.58,116.04 L407.97,115.04 L408.36,114.03 L408.74,113.02 L409.13,112.01 L409.52,111.00 L409.91,109.99 L410.30,108.98 L410.69,107.97 L411.07,106.95 L411.46,105.94 L411.84,104.93 L412.22,103.91 L412.61,102.90 L412.99,101.88 L413.36,100.87 L413.74,99.85 L414.12,98.83 L414.49,97.82 L414.86,96.80 L415.23,95.78 L415.60,94.76 L415.97,93.74 L416.34,92.73 L416.71,91.71 L417.07,90.69 L417.43,89.66 L417.80,88.64 L418.16,87.62 L418.52,86.60 L418.88,85.58 L419.23,84.56 L419.59,83.53 L419.94,82.51 L420.30,81.49 L420.65,80.46 L421.00,79.44 L421.35,78.42 L421.70,77.39 L422.04,76.37 L422.39,75.34 L422.74,74.32 L423.08,73.29 L423.42,72.27 L423.76,71.24 L424.10,70.22 L424.44,69.19 L424.78,68.17 L425.11,67.14 L425.45,66.11 L425.78,65.09 L426.12,64.06 L426.45,63.03 L426.78,62.01 L427.11,60.98 L427.44,59.95 L427.76,58.93 L428.09,57.90 L428.42,56.87 L428.74,55.85 L429.06,54.82 L429.38,53.79 L429.70,52.77 L430.02,51.74 L430.33,50.71 L430.65,49.69 L430.96,48.66 L431.27,47.63 L431.58,46.61 L431.89,45.58 L432.20,44.56 L432.51,43.53 L432.81,42.50 L433.11,41.48 L433.42,40.45 L433.72,39.43 L434.02,38.40 L434.32,37.38 L434.61,36.35 L434.91,35.33 L435.21,34.31 L435.50,33.28 L435.79,32.26 L436.09,31.24 L436.38,30.21 L436.67,29.19 L436.96,28.17 L437.24,27.14 L437.53,26.12 L437.82,25.10 L438.10,24.08 L438.38,23.06 L438.67,22.04" stroke="#000" stroke-width="3.4" stroke-dasharray="3.3 3.1191" stroke-dashoffset="0.00"/>
<path d="M178.58,21.10 L178.90,22.12 L179.22,23.15 L179.54,24.18 L179.86,25.21 L180.18,26.23 L180.50,27.26 L180.82,28.29 L181.14,29.32 L181.45,30.35 L181.77,31.38 L182.09,32.41 L182.41,33.44 L182.73,34.47 L183.05,35.50 L183.37,36.53 L183.68,37.56 L184.00,38.59 L184.32,39.62 L184.64,40.65 L184.96,41.68 L185.28,42.71 L185.59,43.75 L185.91,44.78 L186.23,45.81 L186.55,46.84 L186.87,47.87 L187.19,48.90 L187.51,49.93 L187.83,50.97 L188.15,52.00 L188.47,53.03 L188.79,54.06 L189.11,55.09 L189.43,56.12 L189.76,57.16 L190.08,58.19 L190.40,59.22 L190.72,60.25 L191.05,61.28 L191.37,62.31 L191.70,63.35 L192.02,64.38 L192.35,65.41 L192.67,66.44 L193.00,67.47 L193.33,68.50 L193.66,69.53 L193.98,70.56 L194.31,71.59 L194.64,72.62 L194.97,73.65 L195.30,74.68 L195.64,75.71 L195.97,76.74 L196.30,77.77 L196.64,78.79 L196.97,79.82 L197.31,80.85 L197.64,81.88 L197.98,82.91 L198.32,83.93 L198.66,84.96 L199.00,85.99 L199.34,87.01 L199.68,88.04 L200.03,89.06 L200.37,90.09 L200.72,91.11 L201.06,92.14 L201.41,93.16 L201.76,94.18 L202.11,95.21 L202.46,96.23 L202.81,97.25 L203.16,98.27 L203.52,99.29 L203.87,100.31 L204.23,101.33 L204.58,102.35 L204.94,103.37 L205.30,104.39 L205.66,105.41 L206.03,106.43 L206.39,107.44 L206.76,108.46 L207.12,109.48 L207.49,110.49 L207.86,111.51 L208.23,112.52 L208.60,113.53 L208.98,114.55 L209.35,115.56 L209.73,116.57 L210.11,117.58 L210.49,118.59 L210.87,119.60 L211.25,120.61 L211.64,121.62 L212.02,122.62 L212.41,123.63 L212.80,124.64 L213.19,125.64 L213.58,126.65 L213.98,127.65 L214.37,128.65 L214.77,129.65 L215.17,130.65 L215.57,131.65 L215.98,132.65 L216.38,133.65 L216.79,134.65 L217.20,135.65 L217.61,136.64 L218.02,137.64 L218.44,138.63 L218.85,139.63 L219.27,140.62 L219.69,141.61 L220.12,142.60 L220.54,143.59 L220.97,144.58 L221.40,145.57 L221.83,146.56 L222.26,147.54 L222.69,148.53 L223.13,149.51 L223.57,150.49 L224.01,151.48 L224.46,152.46 L224.90,153.44 L225.35,154.42 L225.80,155.39 L226.25,156.37 L226.71,157.35 L227.17,158.32 L227.63,159.29 L228.09,160.27 L228.55,161.24 L229.02,162.21 L229.49,163.18 L229.96,164.14 L230.43,165.11 L230.91,166.08 L231.39,167.04 L231.87,168.00 L232.36,168.96 L232.84,169.92 L233.33,170.88 L233.82,171.84 L234.32,172.80 L234.82,173.75 L235.32,174.71 L235.82,175.66 L236.32,176.61 L236.83,177.56 L237.34,178.51 L237.85,179.46 L238.37,180.41 L238.89,181.35 L239.41,182.29 L239.94,183.24 L240.46,184.18 L240.99,185.12 L241.53,186.06 L242.06,186.99 L242.60,187.93 L243.14,188.86 L243.69,189.79 L244.24,190.72 L244.79,191.65 L245.34,192.58 L245.90,193.51 L246.46,194.43 L247.02,195.36 L247.59,196.28 L248.16,197.19 L248.74,198.11 L249.32,199.02 L249.90,199.93 L250.49,200.84 L251.08,201.75 L251.68,202.65 L252.28,203.55 L252.89,204.44 L253.50,205.33 L254.12,206.22 L254.74,207.10 L255.37,207.98 L256.01,208.86 L256.65,209.73 L257.30,210.59 L257.95,211.46 L258.61,212.31 L259.28,213.16 L259.95,214.01 L260.64,214.85 L261.32,215.68 L262.02,216.51 L262.72,217.34 L263.44,218.15 L264.16,218.96 L264.88,219.77 L265.62,220.57 L266.36,221.36 L267.12,222.14 L267.88,222.92 L268.65,223.69 L269.43,224.45 L270.22,225.21 L271.01,225.96 L271.82,226.70 L272.64,227.43 L273.47,228.15 L274.30,228.87 L275.15,229.57 L276.00,230.26 L276.87,230.95 L277.74,231.62 L278.62,232.28 L279.51,232.92 L280.41,233.56 L281.31,234.18 L282.22,234.78 L283.15,235.37 L284.07,235.94 L285.01,236.50 L285.95,237.04 L286.90,237.56 L287.86,238.06 L288.82,238.54 L289.79,239.01 L290.77,239.45 L291.75,239.88 L292.74,240.28 L293.73,240.66 L294.73,241.01 L295.73,241.35 L296.74,241.66 L297.76,241.94 L298.78,242.20 L299.80,242.43 L300.83,242.64 L301.87,242.82 L302.90,242.97 L303.94,243.10 L304.99,243.20 L306.04,243.27 L307.09,243.31 L308.14,243.33 L309.19,243.32 L310.24,243.29 L311.29,243.23 L312.35,243.14 L313.40,243.03 L314.45,242.90 L315.50,242.74 L316.54,242.56 L317.58,242.35 L318.62,242.12 L319.65,241.87 L320.68,241.60 L321.71,241.30 L322.73,240.98 L323.74,240.64 L324.74,240.28 L325.74,239.89 L326.73,239.49 L327.71,239.07 L328.68,238.62 L329.64,238.16 L330.60,237.68 L331.54,237.17 L332.47,236.65 L333.40,236.11 L334.31,235.56 L335.22,234.98 L336.12,234.40 L337.00,233.79 L337.88,233.17 L338.75,232.53 L339.62,231.88 L340.47,231.21 L341.31,230.53 L342.15,229.84 L342.98,229.14 L343.80,228.42 L344.61,227.69 L345.42,226.95 L346.21,226.19 L347.00,225.43 L347.78,224.66 L348.56,223.88 L349.32,223.08 L350.08,222.28 L350.83,221.48 L351.58,220.66 L352.31,219.83 L353.04,219.00 L353.77,218.17 L354.48,217.32 L355.19,216.48 L355.90,215.62 L356.59,214.76 L357.29,213.90 L357.97,213.04 L358.65,212.17 L359.32,211.30 L359.99,210.42 L360.65,209.55 L361.30,208.67 L361.95,207.79 L362.59,206.91 L363.23,206.02 L363.86,205.14 L364.49,204.25 L365.11,203.36 L365.73,202.46 L366.34,201.57 L366.95,200.67 L367.55,199.77 L368.15,198.87 L368.74,197.97 L369.32,197.07 L369.91,196.16 L370.49,195.25 L371.06,194.34 L371.63,193.43 L372.19,192.52 L372.76,191.60 L373.31,190.68 L373.87,189.76 L374.42,188.84 L374.96,187.92 L375.50,187.00 L376.04,186.07 L376.58,185.14 L377.11,184.21 L377.64,183.28 L378.16,182.35 L378.68,181.41 L379.20,180.48 L379.72,179.54 L380.23,178.60 L380.74,177.66 L381.24,176.72 L381.75,175.78 L382.25,174.83 L382.75,173.89 L383.25,172.94 L383.74,171.99 L384.23,171.04 L384.72,170.09 L385.21,169.14 L385.70,168.18 L386.18,167.23 L386.66,166.27 L387.15,165.31 L387.62,164.35 L388.10,163.39 L388.58,162.43 L389.05,161.46 L389.52,160.50 L389.99,159.53 L390.46,158.57 L390.93,157.60 L391.39,156.63 L391.86,155.66 L392.32,154.69 L392.78,153.72 L393.23,152.74 L393.69,151.77 L394.15,150.79 L394.60,149.82 L395.05,148.84 L395.50,147.86 L395.95,146.88 L396.39,145.90 L396.84,144.92 L397.28,143.93 L397.72,142.95 L398.16,141.96 L398.60,140.98 L399.04,139.99 L399.47,139.00 L399.91,138.01 L400.34,137.02 L400.77,136.03 L401.20,135.04 L401.62,134.05 L402.05,133.06 L402.47,132.06 L402.89,131.07 L403.31,130.07 L403.73,129.07 L404.15,128.08 L404.57,127.08 L404.98,126.08 L405.39,125.08 L405.81,124.08 L406.22,123.07 L406.62,122.07 L407.03,121.07 L407.44,120.07 L407.84,119.06 L408.24,118.06 L408.64,117.05 L409.04,116.04 L409.44,115.04 L409.84,114.03 L410.23,113.02 L410.63,112.01 L411.02,111.00 L411.41,109.99 L411.80,108.98 L412.19,107.97 L412.57,106.95 L412.96,105.94 L413.34,104.93 L413.72,103.91 L414.11,102.90 L414.49,101.88 L414.86,100.87 L415.24,99.85 L415.62,98.83 L415.99,97.82 L416.36,96.80 L416.73,95.78 L417.10,94.76 L417.47,93.74 L417.84,92.73 L418.21,91.71 L418.57,90.69 L418.93,89.66 L419.30,88.64 L419.66,87.62 L420.02,86.60 L420.38,85.58 L420.73,84.56 L421.09,83.53 L421.44,82.51 L421.80,81.49 L422.15,80.46 L422.50,79.44 L422.85,78.42 L423.20,77.39 L423.54,76.37 L423.89,75.34 L424.24,74.32 L424.58,73.29 L424.92,72.27 L425.26,71.24 L425.60,70.22 L425.94,69.19 L426.28,68.17 L426.61,67.14 L426.95,66.11 L427.28,65.09 L427.62,64.06 L427.95,63.03 L428.28,62.01 L428.61,60.98 L428.94,59.95 L429.26,58.93 L429.59,57.90 L429.92,56.87 L430.24,55.85 L430.56,54.82 L430.88,53.79 L431.21,52.77 L431.53,51.74 L431.84,50.71 L432.16,49.69 L432.48,48.66 L432.79,47.63 L433.11,46.61 L433.42,45.58 L433.73,44.56 L434.04,43.53 L434.36,42.50 L434.66,41.48 L434.97,40.45 L435.28,39.43 L435.59,38.40 L435.89,37.38 L436.20,36.35 L436.50,35.33 L436.80,34.31 L437.10,33.28 L437.40,32.26 L437.70,31.24 L438.00,30.21 L438.30,29.19 L438.60,28.17 L438.89,27.14 L439.19,26.12 L439.48,25.10 L439.78,24.08 L440.07,23.06 L440.36,22.04" stroke="#00ff00" stroke-width="3.4" stroke-dasharray="3.7 2.7163" stroke-dashoffset="0.80"/>
</g>
<g stroke="#000" stroke-width="0.55" fill="none">
<line x1="0" y1="223.5" x2="457" y2="223.5"/>
<line x1="348.5" y1="21.2" x2="348.5" y2="304.7"/>
<line x1="9.61" y1="223.5" x2="9.61" y2="220.3"/>
<line x1="29.55" y1="223.5" x2="29.55" y2="218.0"/>
<line x1="49.49" y1="223.5" x2="49.49" y2="220.3"/>
<line x1="69.44" y1="223.5" x2="69.44" y2="220.3"/>
<line x1="89.38" y1="223.5" x2="89.38" y2="220.3"/>
<line x1="109.32" y1="223.5" x2="109.32" y2="218.0"/>
<line x1="129.26" y1="223.5" x2="129.26" y2="220.3"/>
<line x1="149.21" y1="223.5" x2="149.21" y2="220.3"/>
<line x1="169.15" y1="223.5" x2="169.15" y2="220.3"/>
<line x1="189.09" y1="223.5" x2="189.09" y2="218.0"/>
<line x1="209.03" y1="223.5" x2="209.03" y2="220.3"/>
<line x1="228.97" y1="223.5" x2="228.97" y2="220.3"/>
<line x1="248.92" y1="223.5" x2="248.92" y2="220.3"/>
<line x1="268.86" y1="223.5" x2="268.86" y2="218.0"/>
<line x1="288.80" y1="223.5" x2="288.80" y2="220.3"/>
<line x1="308.75" y1="223.5" x2="308.75" y2="220.3"/>
<line x1="328.69" y1="223.5" x2="328.69" y2="220.3"/>
<line x1="368.57" y1="223.5" x2="368.57" y2="220.3"/>
<line x1="388.51" y1="223.5" x2="388.51" y2="220.3"/>
<line x1="408.46" y1="223.5" x2="408.46" y2="220.3"/>
<line x1="428.40" y1="223.5" x2="428.40" y2="218.0"/>
<line x1="448.34" y1="223.5" x2="448.34" y2="220.3"/>
<line x1="348.5" y1="304.44" x2="353.8" y2="304.44"/>
<line x1="348.5" y1="296.35" x2="351.7" y2="296.35"/>
<line x1="348.5" y1="288.27" x2="351.7" y2="288.27"/>
<line x1="348.5" y1="280.18" x2="351.7" y2="280.18"/>
<line x1="348.5" y1="272.10" x2="351.7" y2="272.10"/>
<line x1="348.5" y1="264.01" x2="353.8" y2="264.01"/>
<line x1="348.5" y1="255.92" x2="351.7" y2="255.92"/>
<line x1="348.5" y1="247.84" x2="351.7" y2="247.84"/>
<line x1="348.5" y1="239.75" x2="351.7" y2="239.75"/>
<line x1="348.5" y1="231.67" x2="351.7" y2="231.67"/>
<line x1="348.5" y1="215.49" x2="351.7" y2="215.49"/>
<line x1="348.5" y1="207.41" x2="351.7" y2="207.41"/>
<line x1="348.5" y1="199.32" x2="351.7" y2="199.32"/>
<line x1="348.5" y1="191.24" x2="351.7" y2="191.24"/>
<line x1="348.5" y1="183.15" x2="353.8" y2="183.15"/>
<line x1="348.5" y1="175.06" x2="351.7" y2="175.06"/>
<line x1="348.5" y1="166.98" x2="351.7" y2="166.98"/>
<line x1="348.5" y1="158.89" x2="351.7" y2="158.89"/>
<line x1="348.5" y1="150.81" x2="351.7" y2="150.81"/>
<line x1="348.5" y1="142.72" x2="353.8" y2="142.72"/>
<line x1="348.5" y1="134.63" x2="351.7" y2="134.63"/>
<line x1="348.5" y1="126.55" x2="351.7" y2="126.55"/>
<line x1="348.5" y1="118.46" x2="351.7" y2="118.46"/>
<line x1="348.5" y1="110.38" x2="351.7" y2="110.38"/>
<line x1="348.5" y1="102.29" x2="353.8" y2="102.29"/>
<line x1="348.5" y1="94.20" x2="351.7" y2="94.20"/>
<line x1="348.5" y1="86.12" x2="351.7" y2="86.12"/>
<line x1="348.5" y1="78.03" x2="351.7" y2="78.03"/>
<line x1="348.5" y1="69.95" x2="351.7" y2="69.95"/>
<line x1="348.5" y1="61.86" x2="353.8" y2="61.86"/>
<line x1="348.5" y1="53.77" x2="351.7" y2="53.77"/>
<line x1="348.5" y1="45.69" x2="351.7" y2="45.69"/>
<line x1="348.5" y1="37.60" x2="351.7" y2="37.60"/>
<line x1="348.5" y1="29.52" x2="351.7" y2="29.52"/>
<line x1="348.5" y1="21.43" x2="353.8" y2="21.43"/>
</g>
<g font-family="'Liberation Serif', serif" font-size="12.3" fill="#000" stroke="#000" stroke-width="0.18">
<line x1="23.12" y1="234.55" x2="29.42" y2="234.55" stroke="#000" stroke-width="0.8"/>
<text x="29.72" y="238.3" text-anchor="start">8</text>
<line x1="102.89" y1="234.55" x2="109.19" y2="234.55" stroke="#000" stroke-width="0.8"/>
<text x="109.49" y="238.3" text-anchor="start">6</text>
<line x1="182.66" y1="234.55" x2="188.96" y2="234.55" stroke="#000" stroke-width="0.8"/>
<text x="189.26" y="238.3" text-anchor="start">4</text>
<line x1="262.43" y1="234.55" x2="268.73" y2="234.55" stroke="#000" stroke-width="0.8"/>
<text x="269.03" y="238.3" text-anchor="start">2</text>
<text x="428.17" y="238.3" text-anchor="middle">2</text>
<text x="344.5" y="25.60" text-anchor="end">5</text>
<text x="344.5" y="66.02" text-anchor="end">4</text>
<text x="344.5" y="106.44" text-anchor="end">3</text>
<text x="344.5" y="146.86" text-anchor="end">2</text>
<text x="344.5" y="187.28" text-anchor="end">1</text>
<text x="344.5" y="268.12" text-anchor="end">1</text>
<line x1="331.60" y1="264.87" x2="338.00" y2="264.87" stroke="#000" stroke-width="0.8"/>
<text x="344.5" y="308.54" text-anchor="end">2</text>
<line x1="331.60" y1="305.29" x2="338.00" y2="305.29" stroke="#000" stroke-width="0.8"/>
<text x="348.7" y="11.2" text-anchor="middle" font-style="italic">Z</text>
<text x="470.5" y="228.0" text-anchor="middle">λ</text>
</g>
</svg>
</body></html>
